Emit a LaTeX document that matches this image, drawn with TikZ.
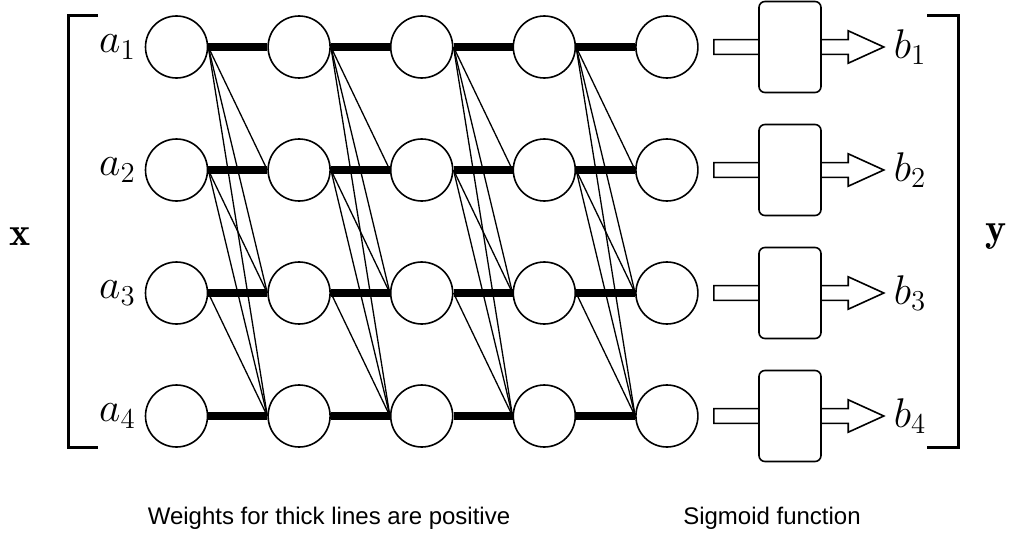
\documentclass[tikz,border=0pt]{standalone}
\usepackage{amsmath}
\usepackage{fontspec}
\setsansfont{Liberation Sans}
\usetikzlibrary{shapes.arrows,positioning}

\begin{document}
\begin{tikzpicture}[x=0.5pt,y=-0.5pt,
        neuron/.style={draw,circle,line width=0.8pt,minimum size=31pt,inner sep=0pt},
        sigbox/.style={draw,fill=white,rounded corners=3pt,line width=0.8pt,
          minimum width=31pt,minimum height=45.5pt},
        blockarrow/.style={draw,fill=white,single arrow,line width=0.8pt,
          minimum height=85pt,inner sep=3.3pt,single arrow head extend=4.4pt,
          single arrow tip angle=49,anchor=tail},
        lbl/.style={font=\fontsize{20}{22}\selectfont}]
        \useasboundingbox (0,0) rectangle (1018,546);

        % neurons
        \foreach \c in {1,...,5}
        \foreach \r in {1,...,4}
        {\node[neuron] (C\c\r) at ({176.5+(\c-1)*122.6},{47+(\r-1)*123}) {};}

        % thick lines and thin lines to the rows below
        \foreach \c [evaluate=\c as \n using int(\c+1)] in {1,...,4}
        \foreach \r in {1,...,4}
        {\draw[line width=4pt] (C\c\r.east) -- (C\n\r.west);
         \foreach \s in {\r,...,4}
         {\ifnum\s>\r \draw[line width=0.65pt] (C\c\r.east) -- (C\n\s.west);\fi}}

        % inputs, sigmoids and outputs
        \foreach \r in {1,...,4}
        {\node[lbl,left=1pt of C1\r] (In\r) {$a_\r$};
         \node[blockarrow] (Ar\r) at (713,{47+(\r-1)*123}) {};
         \node[sigbox] (S\r) at (790,{47+(\r-1)*123}) {};
         \node[lbl,right=0.5pt of Ar\r.tip] (Out\r) {$b_\r$};}

        % brackets
        \draw[line width=1.5pt] (98,15) -| (68,447) -- (98,447);
        \draw[line width=1.5pt] (927,15) -| (958,447) -- (927,447);
        \node[lbl] (xv) at (20,237) {$\mathbf{x}$};
        \node[lbl] (yv) at (996,237) {$\mathbf{y}$};

        \node[font=\sffamily\fontsize{12}{14}\selectfont] (wt) at (329,518) {Weights for thick lines are positive};
        \node[font=\sffamily\fontsize{12}{14}\selectfont] (sg) at (772,518) {Sigmoid function};
\end{tikzpicture}
\end{document}
